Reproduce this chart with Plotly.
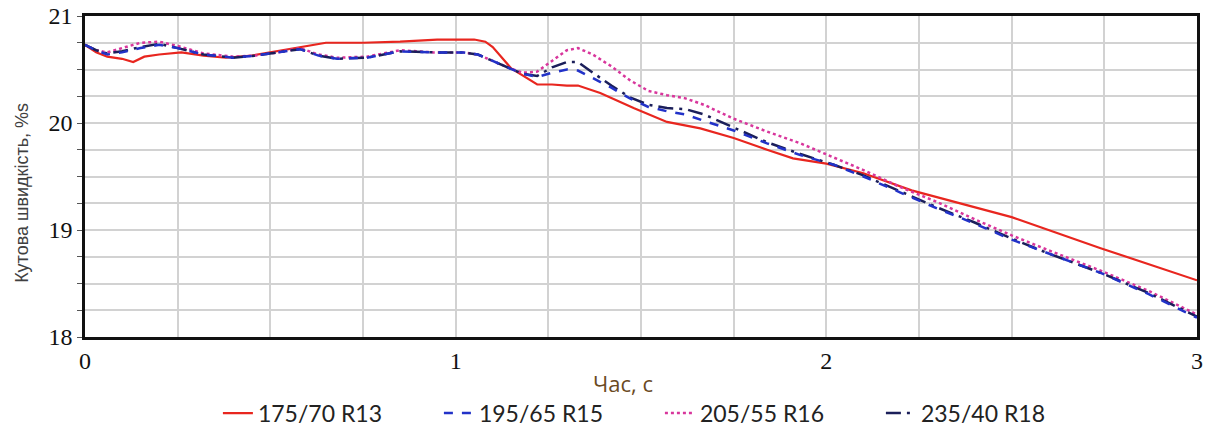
import plotly.graph_objects as go

# ---- data ----
t_red = [0, 0.03, 0.06, 0.10, 0.13, 0.16, 0.20, 0.26, 0.32, 0.38, 0.45, 0.52, 0.58, 0.65, 0.75,
         0.85, 0.95, 1.05, 1.08, 1.10, 1.15, 1.22, 1.26, 1.30, 1.33, 1.39, 1.48, 1.57, 1.66, 1.75,
         1.84, 1.91, 2.0, 2.1, 2.23, 2.5, 2.74, 3.0]
v_red = [20.73, 20.66, 20.62, 20.60, 20.57, 20.62, 20.64, 20.66, 20.63, 20.61, 20.63, 20.67, 20.71,
         20.75, 20.75, 20.76, 20.78, 20.78, 20.76, 20.71, 20.51, 20.36, 20.36, 20.35, 20.35, 20.28,
         20.14, 20.01, 19.95, 19.86, 19.75, 19.67, 19.62, 19.53, 19.37, 19.12, 18.83, 18.53]

t_grp = [0, 0.03, 0.06, 0.10, 0.15, 0.20, 0.25, 0.32, 0.40, 0.46, 0.52, 0.58, 0.63, 0.68, 0.76,
         0.85, 0.94, 1.02, 1.06, 1.10, 1.14, 1.18, 1.22, 1.26, 1.30, 1.33, 1.37, 1.42, 1.47, 1.52,
         1.57, 1.62, 1.67, 1.75, 1.84, 1.93, 2.02, 2.10, 2.2, 2.3, 2.4, 2.5, 2.6, 2.74, 2.87, 3.0]
v_blue = [20.73, 20.68, 20.64, 20.66, 20.70, 20.73, 20.70, 20.64, 20.61, 20.63, 20.66, 20.69, 20.63,
          20.60, 20.61, 20.67, 20.66, 20.66, 20.64, 20.58, 20.52, 20.46, 20.43, 20.47, 20.50, 20.49,
          20.42, 20.33, 20.23, 20.15, 20.11, 20.08, 20.02, 19.93, 19.81, 19.70, 19.61, 19.50, 19.35,
          19.20, 19.06, 18.91, 18.78, 18.60, 18.40, 18.18]
v_navy = [20.73, 20.68, 20.65, 20.67, 20.71, 20.74, 20.70, 20.64, 20.61, 20.63, 20.66, 20.69, 20.63,
          20.60, 20.61, 20.67, 20.66, 20.66, 20.64, 20.58, 20.52, 20.46, 20.44, 20.52, 20.57, 20.57,
          20.47, 20.35, 20.24, 20.17, 20.14, 20.13, 20.08, 19.96, 19.82, 19.71, 19.61, 19.51, 19.36,
          19.21, 19.07, 18.92, 18.78, 18.60, 18.41, 18.19]
v_mag = [20.73, 20.68, 20.66, 20.70, 20.75, 20.76, 20.72, 20.65, 20.62, 20.63, 20.66, 20.70, 20.64,
         20.61, 20.62, 20.68, 20.66, 20.66, 20.64, 20.58, 20.52, 20.47, 20.48, 20.58, 20.68, 20.70,
         20.64, 20.53, 20.40, 20.30, 20.26, 20.23, 20.17, 20.04, 19.92, 19.81, 19.68, 19.56, 19.40,
         19.26, 19.10, 18.95, 18.81, 18.62, 18.43, 18.21]

names = ["175/70 R13", "195/65 R15", "205/55 R16", "235/40 R18"]
x_ticks = [0, 1, 2, 3]
y_ticks = [18, 19, 20, 21]
x_title = "Час, с"
y_title = "Кутова швидкість, %s"

fig = go.Figure()
fig.add_trace(go.Scatter(x=t_red, y=v_red, name=names[0], mode="lines", legendrank=1,
                         line=dict(color="#e8261f", width=2.2)))
fig.add_trace(go.Scatter(x=t_grp, y=v_mag, name=names[2], mode="lines", legendrank=3,
                         line=dict(color="#d8369c", width=2.5, dash="dot")))
fig.add_trace(go.Scatter(x=t_grp, y=v_navy, name=names[3], mode="lines", legendrank=4,
                         line=dict(color="#1b1f5a", width=2.5, dash="longdashdot")))
fig.add_trace(go.Scatter(x=t_grp, y=v_blue, name=names[1], mode="lines", legendrank=2,
                         line=dict(color="#2232c8", width=2.5, dash="dash")))

tick_font = dict(family="Liberation Sans Narrow", size=24, color="#111111")

fig.update_layout(
    width=1216, height=434,
    margin=dict(l=85, r=19, t=16, b=97, autoexpand=False),
    paper_bgcolor="white", plot_bgcolor="white",
    showlegend=True,
    legend=dict(orientation="h", x=0.517, xanchor="center", y=0.048, yref="container",
                yanchor="middle", entrywidth=176, entrywidthmode="pixels",
                font=dict(family="Lato", size=23, color="#222222"), itemwidth=30,
                traceorder="normal"),
    xaxis=dict(range=[0, 3], tickvals=x_ticks, ticktext=[str(v) for v in x_ticks],
               automargin=False, ticklabeloverflow="allow",
               showgrid=True, gridcolor="#d2d2d2", gridwidth=1.5,
               minor=dict(dtick=0.25, showgrid=True, gridcolor="#d2d2d2", gridwidth=1.5),
               showline=True, mirror=True, linecolor="#111111", linewidth=2.5,
               ticks="", tickfont=tick_font, zeroline=False),
    yaxis=dict(range=[18, 21], tickvals=y_ticks, ticktext=[str(v) for v in y_ticks],
               automargin=False, ticklabeloverflow="allow",
               showgrid=True, gridcolor="#d2d2d2", gridwidth=1.5,
               minor=dict(dtick=0.25, showgrid=True, gridcolor="#d2d2d2", gridwidth=1.5,
                          ticks="outside", ticklen=5, tickcolor="#555555"),
               showline=True, mirror=True, linecolor="#111111", linewidth=2.5,
               ticks="outside", ticklen=5, tickcolor="#555555",
               tickfont=tick_font, zeroline=False),
    annotations=[
        dict(text=x_title, xref="paper", yref="paper", x=(623 - 85) / 1112, y=-0.143,
             xanchor="center", yanchor="middle", showarrow=False,
             font=dict(family="Open Sans", size=22, color="#6b4a1f")),
        dict(text=y_title, xref="paper", yref="paper", x=(22 - 85) / 1112, y=0.449,
             xanchor="center", yanchor="middle", showarrow=False, textangle=-90,
             font=dict(family="Liberation Sans", size=18, color="#404040")),
    ],
)

fig.write_html("out.html", config={"displayModeBar": False},
               post_script="document.body.style.margin='0';")
